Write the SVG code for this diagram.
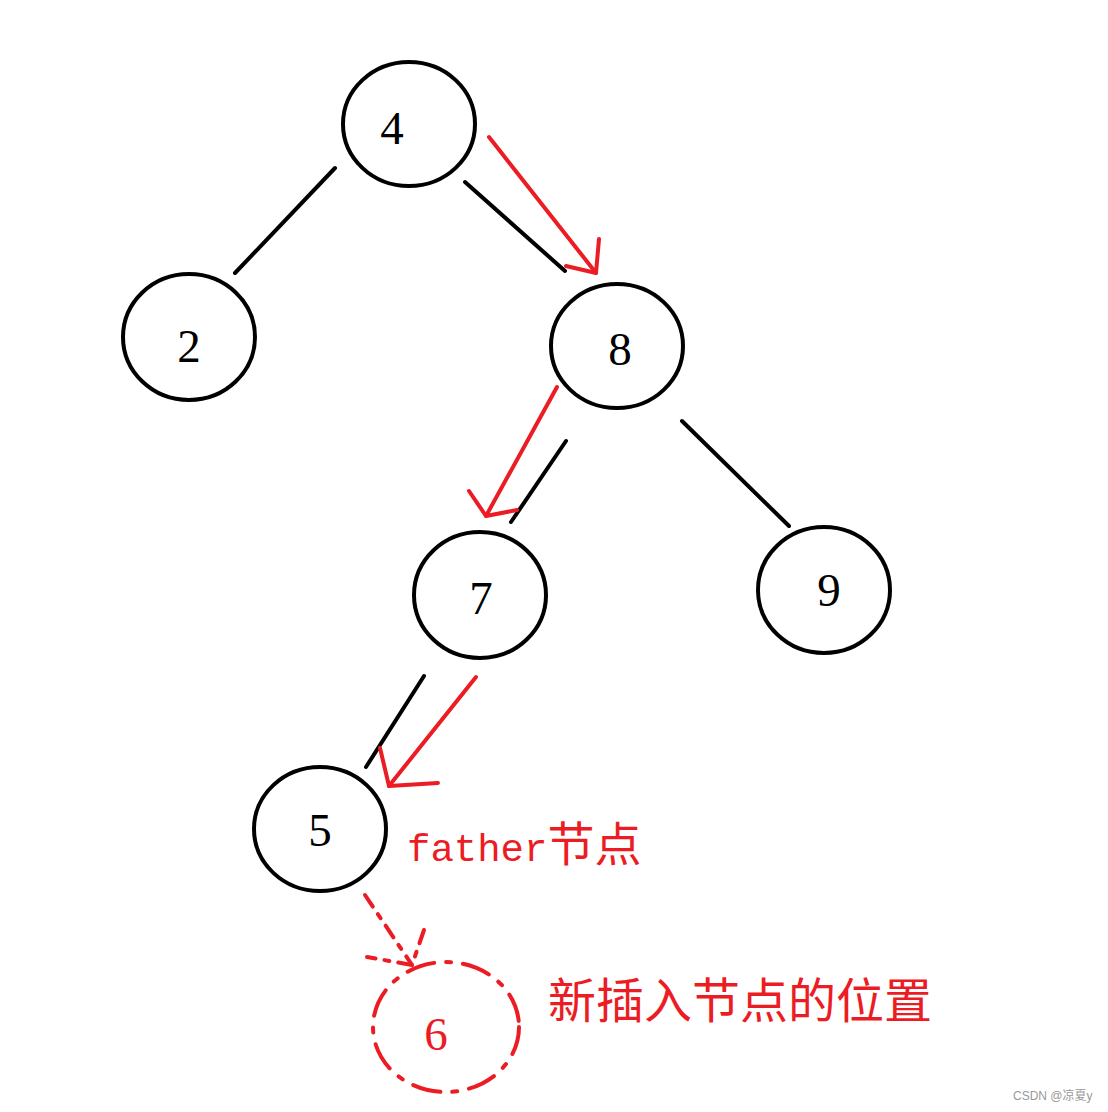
<svg xmlns="http://www.w3.org/2000/svg" width="1108" height="1112" viewBox="0 0 1108 1112">
<style>
.node{fill:none;stroke:#000;stroke-width:4}
.lbl{font-family:"Liberation Serif",serif;font-size:47px;fill:#000;text-anchor:middle}
.edge{stroke:#000;stroke-width:4;stroke-linecap:round;fill:none}
.red{stroke:#ec1c24;stroke-width:4;stroke-linecap:round;stroke-linejoin:round;fill:none}
.dash{stroke-dasharray:14 9 5 9}
.rtext{fill:#ec1c24}
</style>
<rect width="1108" height="1112" fill="#fff"/>
<g id="connectors">
<line class="edge" x1="335" y1="168" x2="235" y2="273"/>
<line class="edge" x1="465" y1="182" x2="565" y2="271"/>
<line class="edge" x1="566" y1="441" x2="511" y2="522"/>
<line class="edge" x1="682" y1="421" x2="789" y2="526"/>
<line class="edge" x1="424" y1="676" x2="366" y2="767"/>
<line class="red" x1="489" y1="137" x2="596" y2="273"/>
<polyline class="red" points="599,239 596,273 566,266"/>
<line class="red" x1="557" y1="387" x2="486" y2="516"/>
<polyline class="red" points="469,491 486,516 517,510"/>
<line class="red" x1="476" y1="677" x2="389" y2="786"/>
<polyline class="red" points="380,748 389,786 438,783"/>
<line class="red dash" x1="365" y1="895" x2="412" y2="965"/>
<polyline class="red dash" points="424,930 412,965 367,957"/>
</g>
<g id="node4"><ellipse class="node" cx="409" cy="124" rx="66" ry="62"/><text class="lbl" x="392" y="144">4</text></g>
<g id="node2"><ellipse class="node" cx="189" cy="337" rx="66" ry="63"/><text class="lbl" x="189" y="362">2</text></g>
<g id="node8"><ellipse class="node" cx="617" cy="346" rx="66" ry="62"/><text class="lbl" x="620" y="365">8</text></g>
<g id="node7"><ellipse class="node" cx="480" cy="595" rx="66" ry="63"/><text class="lbl" x="481" y="614">7</text></g>
<g id="node9"><ellipse class="node" cx="824" cy="590" rx="66" ry="63"/><text class="lbl" x="829" y="606">9</text></g>
<g id="node5"><ellipse class="node" cx="320" cy="829" rx="66" ry="62"/><text class="lbl" x="320" y="846">5</text></g>
<g id="node6"><ellipse class="red" cx="446" cy="1027" rx="73" ry="65" style="stroke-dasharray:28 12 5 12"/><text class="lbl rtext" x="436" y="1050">6</text></g>
<g id="labels">
<text x="407" y="861" class="rtext" style="font-family:'Liberation Mono',monospace;font-size:39px">father<tspan style="font-family:'Noto Sans CJK SC',sans-serif;font-size:47px">节点</tspan></text>
<text x="548" y="1018" class="rtext" style="font-family:'Noto Sans CJK SC',sans-serif;font-size:48px">新插入节点的位置</text>
<text x="1013" y="1100" style="font-family:'Liberation Sans','Noto Sans CJK SC',sans-serif;font-size:12px;fill:#999">CSDN @凉夏y</text>
</g>
</svg>
